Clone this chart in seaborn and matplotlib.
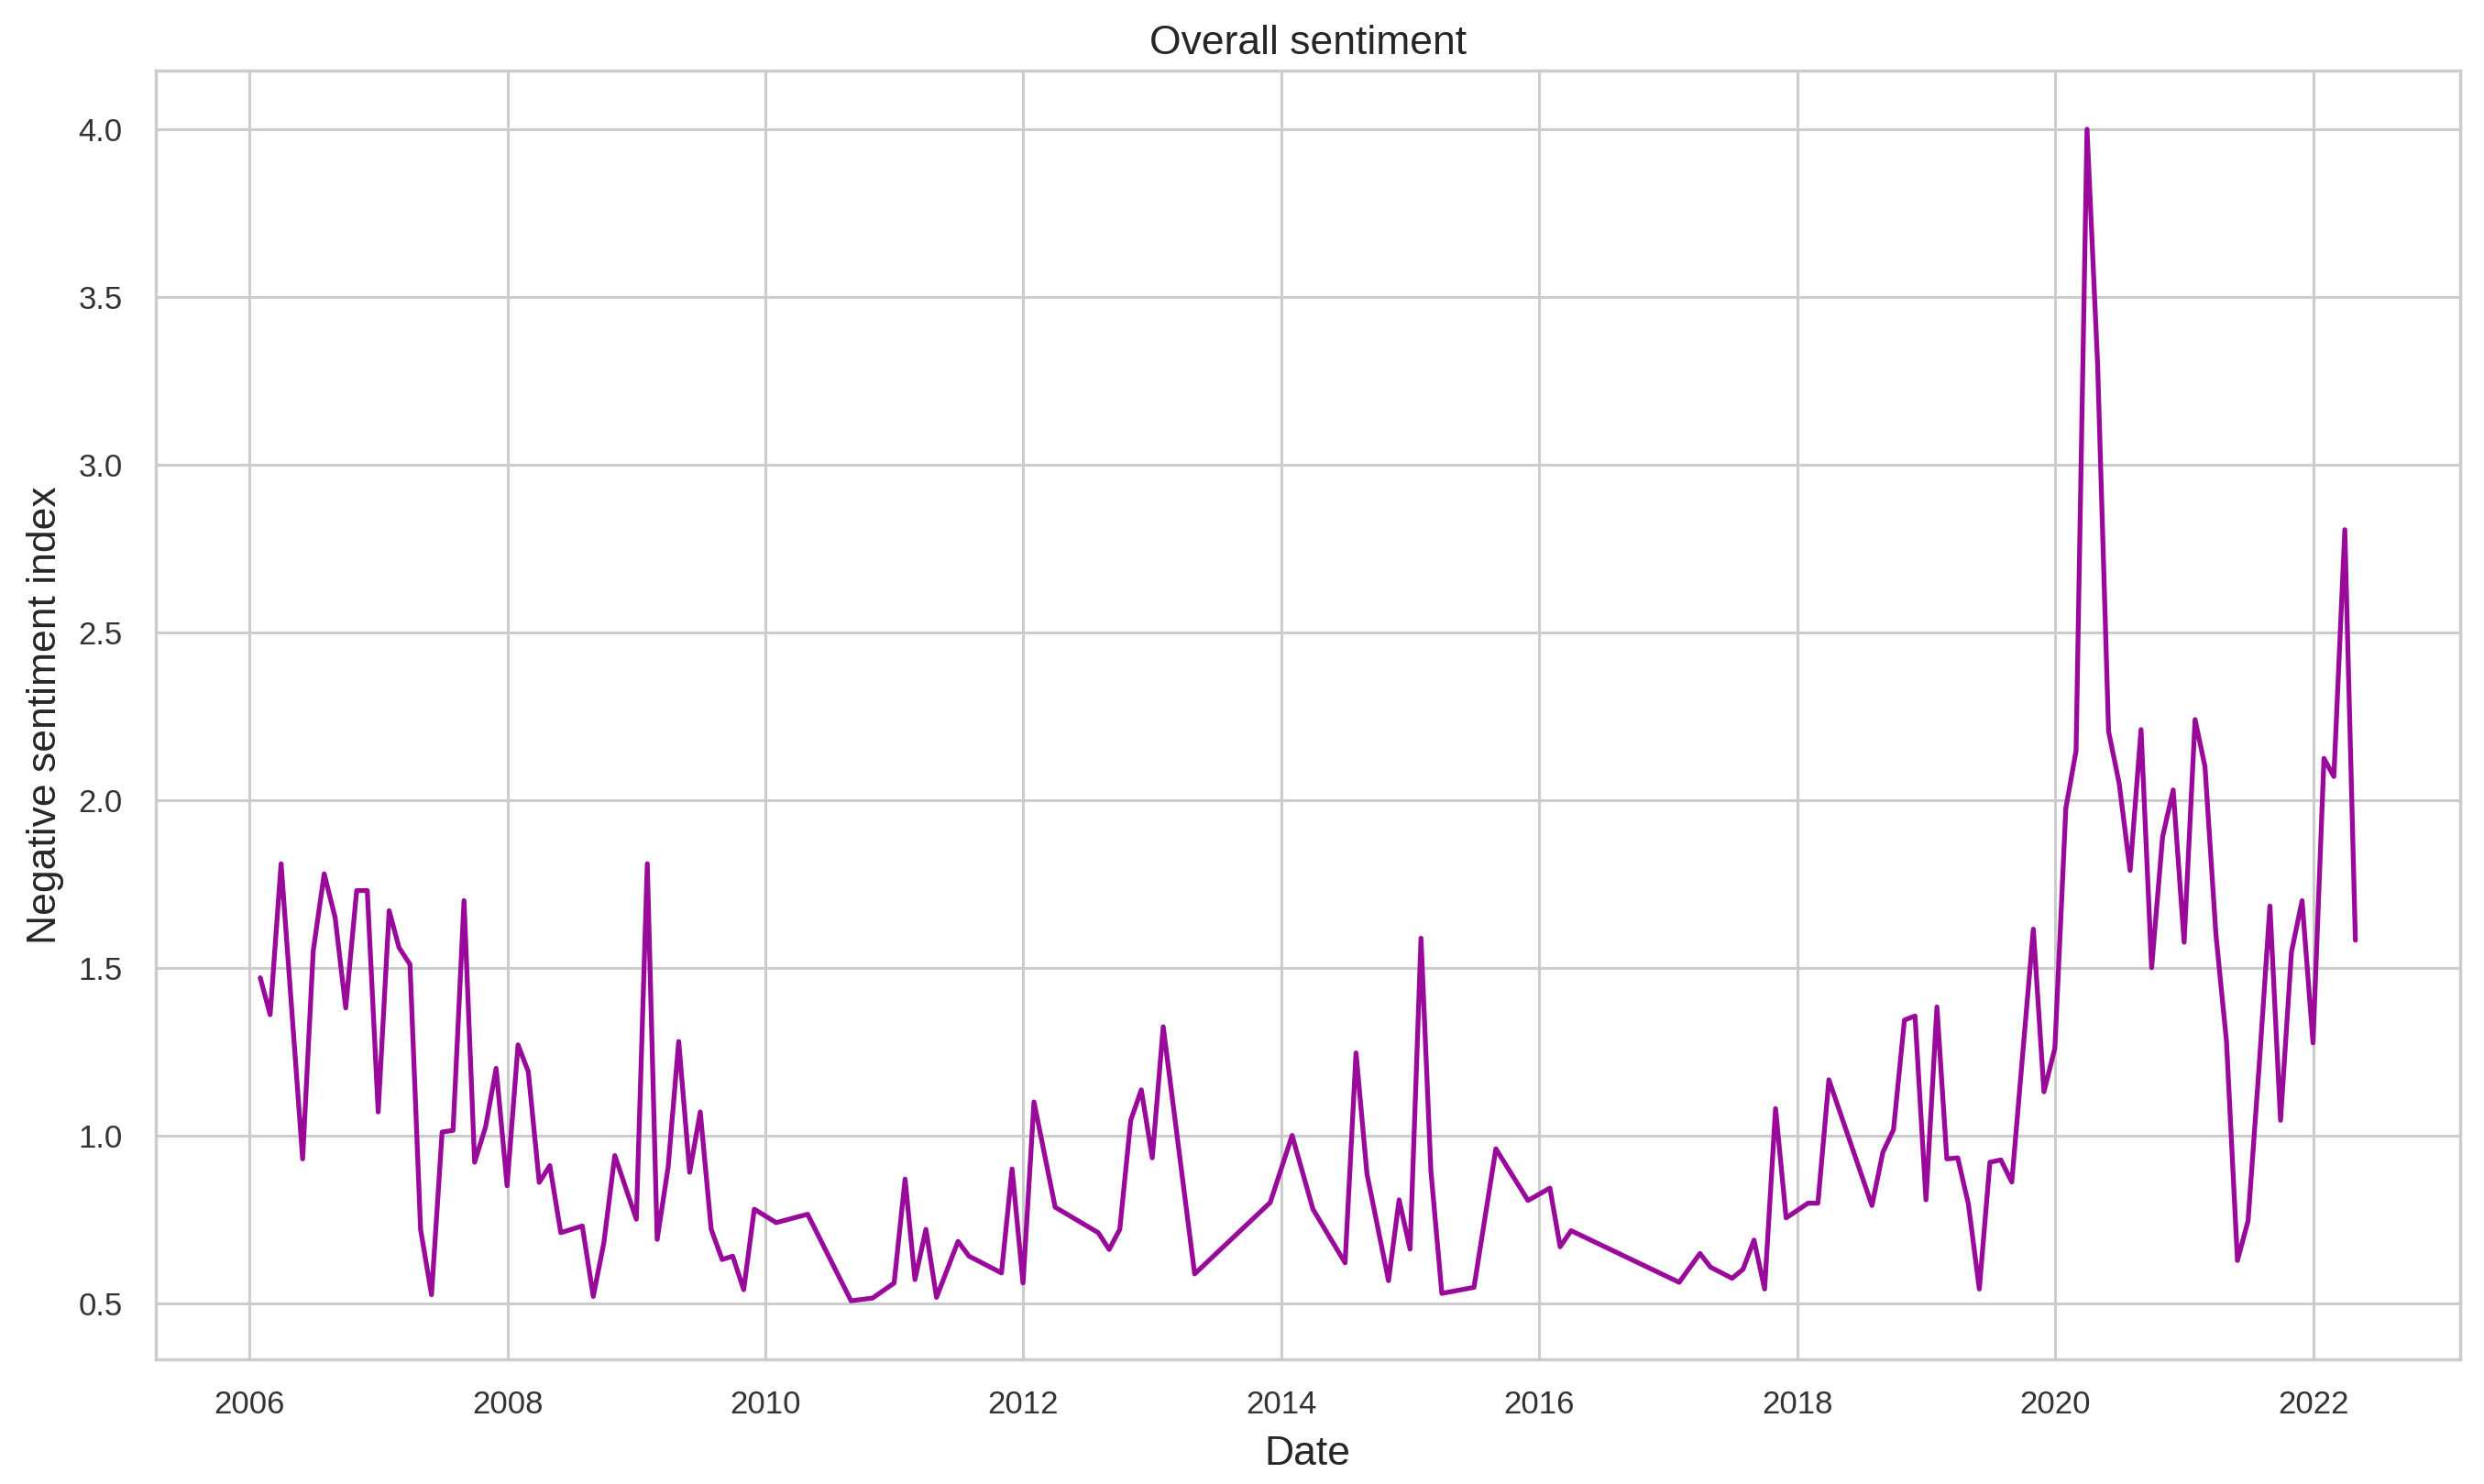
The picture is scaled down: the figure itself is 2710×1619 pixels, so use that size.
import numpy as np
import pandas as pd
import matplotlib
matplotlib.use("Agg")
import matplotlib.pyplot as plt
import matplotlib.dates as mdates
from matplotlib.ticker import MultipleLocator
import seaborn as sns

# ---- data (monthly) ----
months = [
    "2006-01", "2006-02", "2006-03", "2006-05", "2006-06", "2006-07", "2006-08", "2006-09",
    "2006-10", "2006-11", "2006-12", "2007-01", "2007-02", "2007-03", "2007-04", "2007-05",
    "2007-06", "2007-07", "2007-08", "2007-09", "2007-10", "2007-11", "2007-12", "2008-01",
    "2008-02", "2008-03", "2008-04", "2008-05", "2008-07", "2008-08", "2008-09", "2008-10",
    "2008-12", "2009-01", "2009-02", "2009-03", "2009-04", "2009-05", "2009-06", "2009-07",
    "2009-08", "2009-09", "2009-10", "2009-11", "2010-01", "2010-04", "2010-08", "2010-10",
    "2010-12", "2011-01", "2011-02", "2011-03", "2011-04", "2011-06", "2011-07", "2011-10",
    "2011-11", "2011-12", "2012-01", "2012-03", "2012-07", "2012-08", "2012-09", "2012-10",
    "2012-11", "2012-12", "2013-01", "2013-04", "2013-11", "2014-01", "2014-03", "2014-06",
    "2014-07", "2014-08", "2014-10", "2014-11", "2014-12", "2015-01", "2015-02", "2015-03",
    "2015-06", "2015-08", "2015-11", "2016-01", "2016-02", "2016-03", "2017-01", "2017-03",
    "2017-04", "2017-06", "2017-07", "2017-08", "2017-09", "2017-10", "2017-11", "2018-01",
    "2018-02", "2018-03", "2018-07", "2018-08", "2018-09", "2018-10", "2018-11", "2018-12",
    "2019-01", "2019-02", "2019-03", "2019-04", "2019-05", "2019-06", "2019-07", "2019-08",
    "2019-10", "2019-11", "2019-12", "2020-01", "2020-02", "2020-03", "2020-04", "2020-05",
    "2020-06", "2020-07", "2020-08", "2020-09", "2020-10", "2020-11", "2020-12", "2021-01",
    "2021-02", "2021-03", "2021-04", "2021-05", "2021-06", "2021-07", "2021-08", "2021-09",
    "2021-10", "2021-11", "2021-12", "2022-01", "2022-02", "2022-03", "2022-04",
]
sentiment = [
    1.47, 1.36, 1.81, 0.93, 1.55, 1.78, 1.65, 1.38,
    1.73, 1.73, 1.07, 1.67, 1.56, 1.51, 0.72, 0.525,
    1.01, 1.015, 1.70, 0.92, 1.025, 1.20, 0.85, 1.27,
    1.19, 0.86, 0.91, 0.71, 0.73, 0.52, 0.68, 0.94,
    0.75, 1.81, 0.69, 0.905, 1.28, 0.89, 1.07, 0.72,
    0.63, 0.64, 0.54, 0.78, 0.74, 0.765, 0.507, 0.515,
    0.56, 0.87, 0.57, 0.72, 0.517, 0.684, 0.64, 0.59,
    0.90, 0.56, 1.10, 0.786, 0.71, 0.66, 0.72, 1.045,
    1.136, 0.933, 1.324, 0.587, 0.80, 1.00, 0.78, 0.62,
    1.246, 0.885, 0.567, 0.808, 0.661, 1.588, 0.895, 0.529,
    0.547, 0.96, 0.806, 0.843, 0.668, 0.716, 0.562, 0.648,
    0.607, 0.574, 0.601, 0.688, 0.542, 1.08, 0.754, 0.798,
    0.798, 1.166, 0.791, 0.95, 1.017, 1.344, 1.356, 0.808,
    1.383, 0.93, 0.933, 0.796, 0.542, 0.92, 0.927, 0.861,
    1.615, 1.13, 1.26, 1.975, 2.147, 4.00, 3.30, 2.205,
    2.05, 1.79, 2.21, 1.50, 1.89, 2.03, 1.576, 2.24,
    2.10, 1.60, 1.28, 0.627, 0.745, 1.20, 1.684, 1.045,
    1.547, 1.70, 1.276, 2.124, 2.07, 2.806, 1.582,
]

title = "Overall sentiment"
x_label = "Date"
y_label = "Negative sentiment index"

df = pd.DataFrame({
    "Date": pd.to_datetime(months) + pd.offsets.MonthEnd(0),
    "value": sentiment,
})

# ---- style ----
sns.set_theme(style="whitegrid")
plt.rcParams["font.family"] = ["Liberation Sans", "DejaVu Sans"]
text_color = "#262626"
tick_color = "#333333"

fig = plt.figure(figsize=(27.1, 16.19), dpi=100)
ax = fig.add_axes([0.0626, 0.084, 0.9904 - 0.0626, 0.9524 - 0.084])

sns.lineplot(data=df, x="Date", y="value", ax=ax, color="#9a0a9a", linewidth=3.8)

ax.xaxis.set_major_locator(mdates.YearLocator(2))
ax.xaxis.set_major_formatter(mdates.DateFormatter("%Y"))
ax.yaxis.set_major_locator(MultipleLocator(0.5))

ax.grid(True, color="#cccccc", linewidth=2.2)
for s in ax.spines.values():
    s.set_color("#cccccc")
    s.set_linewidth(2.5)

ax.tick_params(axis="x", length=0, pad=24, labelsize=25, labelcolor=tick_color)
ax.tick_params(axis="y", length=0, pad=26, labelsize=25, labelcolor=tick_color)

ax.set_title(title, fontsize=32, color=text_color, pad=13)
ax.set_xlabel(x_label, fontsize=32, color=text_color, labelpad=12)
ax.set_ylabel(y_label, fontsize=32, color=text_color, labelpad=11)

fig.savefig("out.png", dpi=100, facecolor="white")
